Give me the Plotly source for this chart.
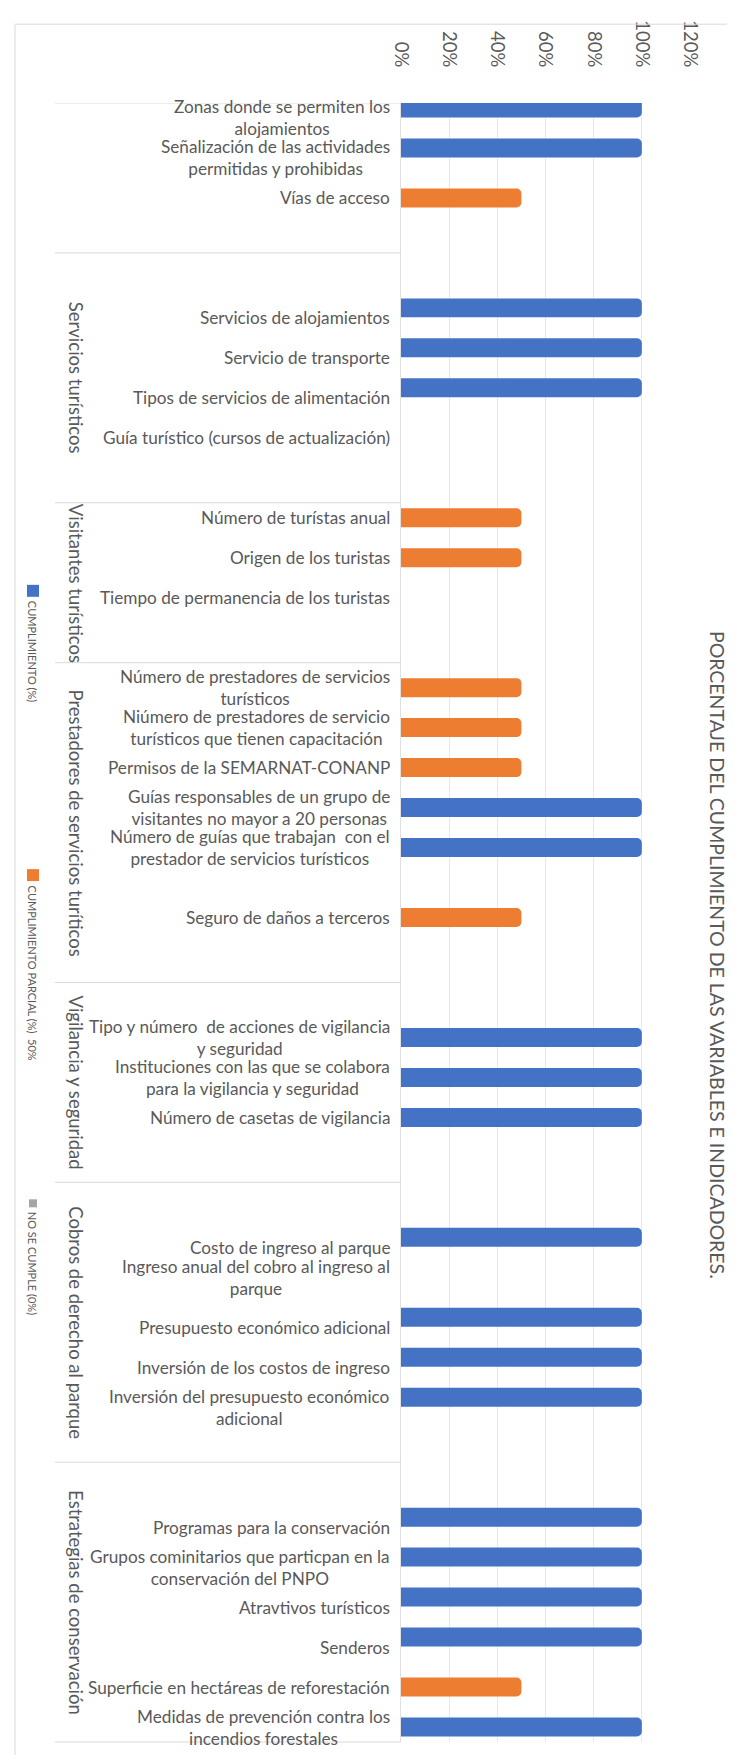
import plotly.graph_objects as go

# ------------------------------------------------------------------ data
title_text = "PORCENTAJE DEL CUMPLIMIENTO DE LAS VARIABLES E INDICADORES."

groups = ["", "Servicios turísticos", "Visitantes turísticos",
          "Prestadores de servicios turíticos", "Vigilancia y seguridad",
          "Cobros de derecho al parque", "Estrategias de conservación"]

indicators_g1 = ["Zonas donde se permiten los<br>alojamientos",
                 "Señalización de las actividades<br>permitidas y prohibidas",
                 "Vías de acceso"]
indicators_g2 = ["Servicios de alojamientos", "Servicio de transporte",
                 "Tipos de servicios de alimentación",
                 "Guía turístico (cursos de actualización)"]
indicators_g3 = ["Número de turístas anual", "Origen de los turistas",
                 "Tiempo de permanencia de los turistas"]
indicators_g4 = ["Número de prestadores de servicios<br>turísticos",
                 "Niúmero de prestadores de servicio<br>turísticos que tienen capacitación",
                 "Permisos de la SEMARNAT-CONANP",
                 "Guías responsables de un grupo de<br>visitantes no mayor a 20 personas",
                 "Número de guías que trabajan  con el<br>prestador de servicios turísticos",
                 "Seguro de daños a terceros"]
indicators_g5 = ["Tipo y número  de acciones de vigilancia<br>y seguridad",
                 "Instituciones con las que se colabora<br>para la vigilancia y seguridad",
                 "Número de casetas de vigilancia"]
indicators_g6 = ["Costo de ingreso al parque",
                 "Ingreso anual del cobro al ingreso al<br>parque",
                 "Presupuesto económico adicional",
                 "Inversión de los costos de ingreso",
                 "Inversión del presupuesto económico<br>adicional"]
indicators_g7 = ["Programas para la conservación",
                 "Grupos cominitarios que particpan en la<br>conservación del PNPO",
                 "Atravtivos turísticos", "Senderos",
                 "Superficie en hectáreas de reforestación",
                 "Medidas de prevención contra los<br>incendios forestales"]

# percentage of compliance of each indicator (100 = cumple, 50 = parcial, 0 = no cumple)
values_g1 = [100, 100, 50]
values_g2 = [100, 100, 100, 0]
values_g3 = [50, 50, 0]
values_g4 = [50, 50, 50, 100, 100, 50]
values_g5 = [100, 100, 100]
values_g6 = [100, 0, 100, 100, 100]
values_g7 = [100, 100, 100, 100, 50, 100]

series_names = ["CUMPLIMIENTO (%)", "CUMPLIMIENTO PARCIAL (%)&nbsp; 50%", "NO SE CUMPLE (0%)"]
series_levels = [100, 50, 0]
series_colors = ["#4472C4", "#ED7D31", "#A5A5A5"]

x_ticks = [0, 20, 40, 60, 80, 100, 120]

# ------------------------------------------------------------------ layout
W, H = 735, 1755
L, R, T, B = 393, 53, 91, 21
PW, PH = W - L - R, H - T - B

# the category axis of the source is laid out on a grid of quarter rows
GROUP_ROWS = [15, 25, 16, 32, 20, 28, 28]           # rows used by each group
ITEM_ROW = [0, 4, 9, 20, 24, 28, 33, 41, 45, 49, 58, 62, 66, 70, 74, 81,
            93, 97, 101, 113, 117, 121, 125, 129, 141, 145, 149, 153, 158, 162]
LABEL_SHIFT = [1, 1, 0, 1, 1, 1, 0, 0, 0, 0, 0, 0, 0, 0, 0, 0,
               0, 0, 0, 1, 0, 1, 1, 1, 1, 1, 1, 1, 0, 0]
NROWS = sum(GROUP_ROWS)
BAR_W = 1.9


def px(x):
    return (x - L) / PW


def py(y):
    return 1 - (y - T) / PH


indicators = [indicators_g1, indicators_g2, indicators_g3, indicators_g4,
              indicators_g5, indicators_g6, indicators_g7]
values = [values_g1, values_g2, values_g3, values_g4, values_g5, values_g6, values_g7]

labels = [lab for g in indicators for lab in g]
vals = [v for g in values for v in g]

TXT = "#595959"
FONT = "Lato"

fig = go.Figure()
for name, level, color in zip(series_names, series_levels, series_colors):
    sel = [i for i, v in enumerate(vals) if v == level]
    fig.add_trace(go.Bar(
        x=[vals[i] for i in sel], y=[ITEM_ROW[i] for i in sel],
        orientation="h", name=name, width=BAR_W,
        marker=dict(color=color, cornerradius=5, line=dict(width=0)),
        showlegend=False,
    ))

annotations = []
for i, lab in enumerate(labels):
    annotations.append(dict(
        x=0, xref="paper", xanchor="right", xshift=-9,
        y=ITEM_ROW[i] + LABEL_SHIFT[i], yref="y", yanchor="middle",
        text=lab, align="center", showarrow=False,
        font=dict(family=FONT, size=17.2, color=TXT)))

shapes = []
start = 0
for g, nrow in zip(groups, GROUP_ROWS):
    if g:
        annotations.append(dict(
            x=px(68), xref="paper", xanchor="center",
            y=start + nrow / 2 - 0.5, yref="y", yanchor="middle",
            text=g, textangle=90, showarrow=False,
            font=dict(family=FONT, size=18.5, color=TXT)))
    shapes.append(dict(type="line", xref="paper", yref="y",
                       x0=px(47), x1=0, y0=start - 0.5, y1=start - 0.5,
                       line=dict(color="#D9D9D9", width=1)))
    start += nrow
shapes.append(dict(type="line", xref="paper", yref="paper",
                   x0=px(47), x1=0, y0=0, y1=0,
                   line=dict(color="#D9D9D9", width=1)))

# chart area border
shapes.append(dict(type="rect", xref="paper", yref="paper",
                   x0=px(7), x1=px(770), y0=py(1790), y1=py(12),
                   line=dict(color="#D9D9D9", width=1)))

# title
annotations.append(dict(
    x=px(709), xref="paper", xanchor="center",
    y=py(945), yref="paper", yanchor="middle",
    text=title_text, textangle=90, showarrow=False,
    font=dict(family=FONT, size=19.5, color=TXT)))

# legend (rotated, drawn manually)
legend_pos = [580, 865, 1194]
legend_size = [12, 12, 8]
for name, color, yc, s in zip(series_names, series_colors, legend_pos, legend_size):
    shapes.append(dict(type="rect", xref="paper", yref="paper",
                       x0=px(25 - s / 2), x1=px(25 + s / 2),
                       y0=py(yc + s / 2), y1=py(yc - s / 2),
                       fillcolor=color, line=dict(width=0)))
    annotations.append(dict(
        x=px(24), xref="paper", xanchor="center",
        y=py(yc + s / 2 + 2), yref="paper", yanchor="top",
        text=name, textangle=90, showarrow=False,
        font=dict(family=FONT, size=11, color=TXT)))

fig.update_layout(
    width=W, height=H,
    margin=dict(l=L, r=R, t=T, b=B, pad=0),
    paper_bgcolor="white", plot_bgcolor="white",
    barmode="overlay",
    showlegend=False,
    annotations=annotations, shapes=shapes,
    xaxis=dict(side="top", range=[0, 120], tickvals=x_ticks,
               ticktext=["%d%%" % t for t in x_ticks],
               tickangle=90, showgrid=True, gridcolor="#E8E8E8", gridwidth=1,
               zeroline=False, showline=False, ticks="",
               ticklabelstandoff=32,
               tickfont=dict(family=FONT, size=18.5, color=TXT), fixedrange=True),
    yaxis=dict(range=[NROWS - 0.5, -0.5], showticklabels=False, showgrid=False,
               zeroline=False, showline=True, linecolor="#E0E0E0", ticks=""),
)

fig.write_html("out.html")
